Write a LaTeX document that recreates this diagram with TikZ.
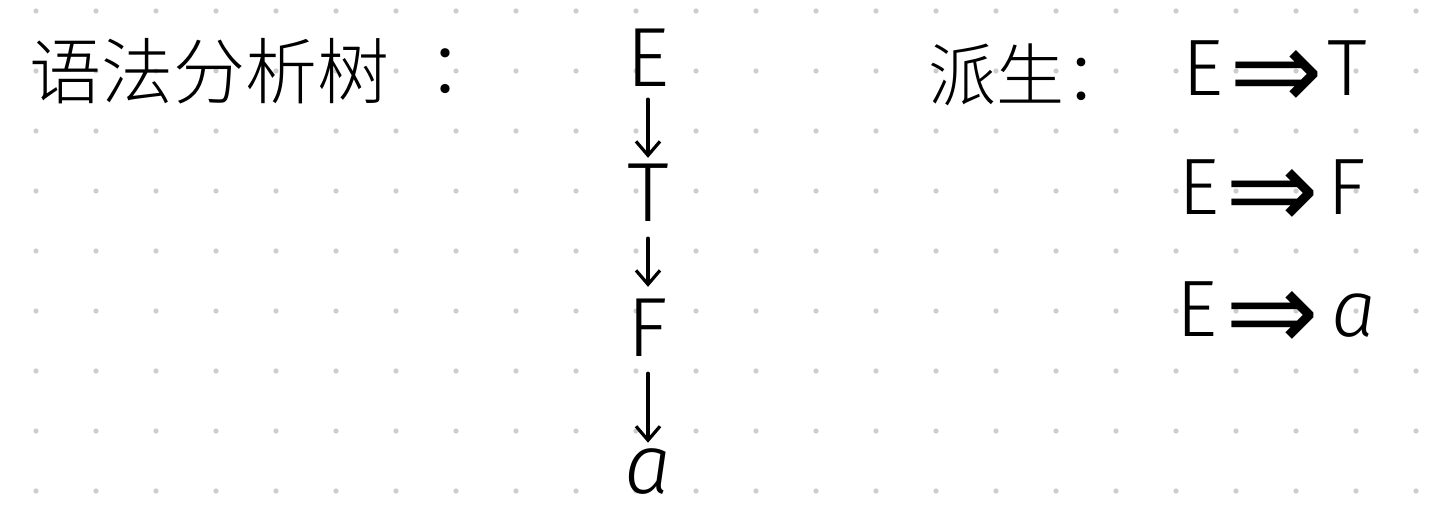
\documentclass[tikz,border=0pt]{standalone}
\usepackage{fontspec}
\usetikzlibrary{arrows.meta}
\IfFontExistsTF{Fira Sans Light}{\newfontfamily\hand{Fira Sans Light}}{\newfontfamily\hand{Fira Sans}}
\IfFontExistsTF{Noto Sans CJK SC Light}{\newfontfamily\cjk{Noto Sans CJK SC Light}}{\newfontfamily\cjk{Noto Sans CJK SC}}
\newfontfamily\symf{DejaVu Sans}
\newcommand\dimp{\raisebox{-7pt}{\symf\fontsize{56}{56}\selectfont ⇒}}
\definecolor{dotc}{RGB}{205,205,205}
\tikzset{
  griddot/.style={fill=dotc},
  cjktext/.style={inner sep=0pt, font=\cjk\fontsize{36}{40}\selectfont},
  treeletter/.style={inner sep=3pt, font=\hand\fontsize{42}{46}\selectfont},
  deriv/.style={inner sep=0pt, anchor=base west, font=\hand\fontsize{40}{44}\selectfont},
  treearrow/.style={line width=1.6pt, line cap=round, -{Straight Barb[length=7pt,width=12pt,line width=1.6pt]}}
}
\begin{document}
\begin{tikzpicture}[x=0.5pt,y=-0.5pt]
\useasboundingbox (0,0) rectangle (1454,519);
\fill[white] (0,0) rectangle (1454,519);
\foreach \i in {0,...,23}{
  \foreach \j in {0,...,8}{
    \fill[griddot] (36+60*\i,11+60*\j) circle[radius=1.3pt];
  }
}
% title left
\node[cjktext] (title) at (209,71) {语法分析树};
\node[cjktext] (colon) at (463,71) {：};
% tree
\node[treeletter] (E) at (648,58) {E};
\node[treeletter] (T) at (648,193) {T};
\node[treeletter] (F) at (648,328) {F};
\node[treeletter] (a) at (648,472) {\itshape a};
\draw[treearrow, shorten <=3pt] (E) -- (T);
\draw[treearrow, shorten <=5pt, shorten >=3pt] (T) -- (F);
\draw[treearrow, shorten <=5pt] (F) -- (a);
% derivation
\node[cjktext, anchor=west, font=\cjk\fontsize{34}{38}\selectfont] (pai) at (928,75) {派生：};
\node[deriv] (d1) at (1182,96) {E\hspace{3pt}\dimp\hspace{2pt}T};
\node[deriv] (d2) at (1178,214) {E\hspace{3pt}\dimp\hspace{4pt}F};
\node[deriv] (d3) at (1176,336) {E\hspace{4pt}\dimp\hspace{6pt}{\itshape a}};
\end{tikzpicture}
\end{document}
